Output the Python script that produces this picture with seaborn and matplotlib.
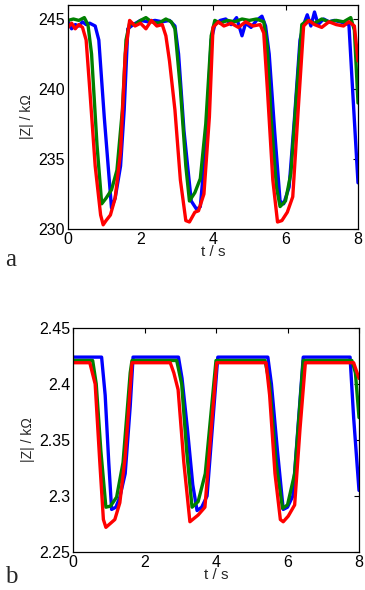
import pandas as pd
import numpy as np
import matplotlib
matplotlib.use("Agg")
import matplotlib.pyplot as plt
import seaborn as sns

# panel a: |Z| in kOhm
t_blue_a = [0, 0.1, 0.2, 0.3, 0.4, 0.5, 0.6, 0.75, 0.85, 1.0, 1.2, 1.3, 1.45, 1.55, 1.65, 1.8, 2.0, 2.2, 2.4, 2.6,
            2.8, 2.95, 3.05, 3.2, 3.4, 3.55, 3.65, 3.8, 3.95, 4.05, 4.2, 4.35, 4.5, 4.65, 4.8, 4.9, 5.05, 5.2, 5.35,
            5.45, 5.55, 5.7, 5.85, 5.95, 6.1, 6.25, 6.4, 6.5, 6.6, 6.7, 6.8, 6.9, 7.05, 7.2, 7.35, 7.5, 7.65, 7.75,
            7.85, 8.0]
z_blue_a = [244.8, 244.3, 244.6, 244.5, 244.8, 244.6, 244.7, 244.5, 243.5, 238, 231.5, 232.2, 234.5, 238.5, 244.3,
            244.6, 244.9, 244.8, 244.9, 244.8, 244.9, 244.5, 242.5, 237, 232, 231.4, 231.6, 236, 243.5, 244.6, 244.9,
            245.0, 244.6, 245.1, 243.8, 244.7, 244.4, 244.9, 245.2, 244.5, 242.5, 237, 232, 231.8, 233, 238, 243.5,
            244.6, 245.3, 244.5, 245.5, 244.6, 245.0, 244.8, 244.9, 244.8, 244.7, 244.6, 240, 233.3]

t_green_a = [0, 0.15, 0.3, 0.45, 0.55, 0.65, 0.8, 0.93, 1.05, 1.2, 1.35, 1.5, 1.6, 1.7, 1.85, 2.0, 2.15, 2.3, 2.5,
             2.7, 2.85, 2.95, 3.1, 3.25, 3.35, 3.5, 3.65, 3.8, 3.95, 4.05, 4.2, 4.4, 4.6, 4.8, 5.0, 5.2, 5.4, 5.5,
             5.6, 5.75, 5.85, 6.0, 6.15, 6.3, 6.45, 6.6, 6.8, 7.0, 7.2, 7.4, 7.6, 7.8, 7.9, 8.0]
z_green_a = [244.9, 245.0, 244.9, 245.1, 244.6, 242.5, 236, 231.8, 232.2, 232.8, 234.2, 238.5, 243.5, 244.7, 244.6,
             244.9, 245.1, 244.8, 244.7, 245.0, 244.8, 244.3, 240, 234.5, 232.0, 232.6, 233.6, 237.5, 243.8, 244.9,
             244.7, 244.9, 244.8, 245.0, 244.9, 245.0, 244.8, 243.0, 238, 233, 231.6, 232.0, 234, 239.5, 244.6,
             244.9, 244.7, 245.0, 244.8, 244.9, 244.8, 245.1, 244.2, 239]

t_red_a = [0, 0.1, 0.2, 0.3, 0.4, 0.5, 0.6, 0.75, 0.9, 0.97, 1.05, 1.17, 1.3, 1.45, 1.58, 1.7, 1.85, 2.0, 2.15, 2.3,
           2.45, 2.6, 2.7, 2.8, 2.95, 3.1, 3.25, 3.35, 3.5, 3.6, 3.75, 3.9, 4.0, 4.15, 4.3, 4.5, 4.7, 4.9, 5.1, 5.3,
           5.4, 5.5, 5.65, 5.78, 5.9, 6.05, 6.2, 6.35, 6.5, 6.65, 6.8, 7.0, 7.2, 7.4, 7.6, 7.75, 7.9, 8.0]
z_red_a = [244.4, 244.7, 244.3, 244.6, 244.4, 243.5, 240, 234.5, 231.0, 230.3, 230.6, 231.0, 232.2, 235.5, 242.5,
           244.9, 244.5, 244.7, 244.3, 244.9, 244.5, 244.6, 243.8, 242.0, 238.5, 233.5, 230.6, 230.5, 231.2, 231.3,
           232.5, 238, 244.4, 244.8, 244.5, 244.7, 244.4, 244.8, 244.5, 244.6, 244.0, 240, 233.5, 230.5, 230.6,
           231.2, 232.3, 238.5, 244.5, 244.9, 244.6, 244.4, 244.8, 244.6, 244.5, 244.8, 244.5, 242]

# panel b
t_blue_b = [0, 0.8, 0.9, 1.0, 1.08, 1.2, 1.31, 1.46, 1.6, 1.68, 2.95, 3.05, 3.2, 3.35, 3.47, 3.6, 3.75, 4.05, 5.45,
            5.55, 5.72, 5.88, 6.0, 6.15, 6.44, 7.75, 7.85, 8.0]
z_blue_b = [2.424, 2.424, 2.39, 2.33, 2.288, 2.29, 2.299, 2.32, 2.38, 2.424, 2.424, 2.405, 2.36, 2.31, 2.287, 2.29,
            2.30, 2.424, 2.424, 2.40, 2.34, 2.288, 2.29, 2.30, 2.424, 2.424, 2.37, 2.305]

t_green_b = [0, 0.55, 0.65, 0.78, 0.92, 1.05, 1.22, 1.4, 1.6, 1.65, 2.9, 3.04, 3.18, 3.33, 3.5, 3.7, 4.0, 5.37,
             5.5, 5.68, 5.86, 6.0, 6.2, 6.44, 7.8, 7.9, 8.0]
z_green_b = [2.421, 2.421, 2.40, 2.34, 2.290, 2.291, 2.299, 2.33, 2.41, 2.421, 2.421, 2.40, 2.34, 2.290, 2.295,
             2.32, 2.421, 2.421, 2.40, 2.33, 2.289, 2.292, 2.32, 2.421, 2.421, 2.41, 2.37]

t_red_b = [0, 0.47, 0.62, 0.75, 0.85, 0.92, 1.17, 1.31, 1.46, 1.65, 2.72, 2.82, 2.94, 3.1, 3.27, 3.5, 3.69, 3.88,
           4.02, 5.4, 5.5, 5.65, 5.8, 5.88, 6.02, 6.2, 6.35, 6.5, 7.85, 8.0]
z_red_b = [2.419, 2.419, 2.40, 2.33, 2.279, 2.272, 2.279, 2.294, 2.335, 2.419, 2.419, 2.41, 2.395, 2.33, 2.277,
           2.283, 2.29, 2.365, 2.419, 2.419, 2.39, 2.32, 2.279, 2.277, 2.282, 2.292, 2.36, 2.419, 2.419, 2.405]

yticks_a = [230, 235, 240, 245]
yticks_b = [2.25, 2.3, 2.35, 2.4, 2.45]
ytick_labels_b = ["2.25", "2.3", "2.35", "2.4", "2.45"]
xticks = [0, 2, 4, 6, 8]


def to_long(parts):
    frames = []
    for name, t, z in parts:
        frames.append(pd.DataFrame({"t": t, "z": z, "series": name}))
    return pd.concat(frames, ignore_index=True)


df_a = to_long([("blue", t_blue_a, z_blue_a), ("green", t_green_a, z_green_a), ("red", t_red_a, z_red_a)])
df_b = to_long([("blue", t_blue_b, z_blue_b), ("green", t_green_b, z_green_b), ("red", t_red_b, z_red_b)])

sns.set_style("white")
plt.rcParams["font.family"] = ["Liberation Sans", "DejaVu Sans"]

palette = {"blue": "#0000ff", "green": "#008000", "red": "#ff0000"}

fig = plt.figure(figsize=(3.65, 5.9), dpi=100)
ax_a = fig.add_axes([68 / 365, 1 - 229 / 590, 290 / 365, 224 / 590])
ax_b = fig.add_axes([73 / 365, 1 - 552 / 590, 286 / 365, 224 / 590])

for ax, df in [(ax_a, df_a), (ax_b, df_b)]:
    sns.lineplot(data=df, x="t", y="z", hue="series", palette=palette, estimator=None,
                 sort=False, linewidth=2.4, legend=False, ax=ax)
    ax.set_xlim(0, 8)
    ax.set_xticks(xticks)
    ax.set_xlabel("t / s", fontsize=11, labelpad=-1)
    ax.set_ylabel("|Z| / k\u03a9", fontsize=10, labelpad=3)
    ax.tick_params(direction="in", top=True, right=True, length=3.5, width=0.8,
                   labelsize=11.5, pad=2, colors="black")
    for s in ax.spines.values():
        s.set_visible(True)
        s.set_color("black")
        s.set_linewidth(0.9)

ax_a.set_ylim(230, 246)
ax_a.set_yticks(yticks_a)
ax_b.set_ylim(2.25, 2.45)
ax_b.set_yticks(yticks_b)
ax_b.set_yticklabels(ytick_labels_b)

fig.text(5 / 365, 1 - 266 / 590, "a", family="Liberation Serif", fontsize=18, va="baseline")
fig.text(5 / 365, 1 - 583 / 590, "b", family="Liberation Serif", fontsize=18, va="baseline")

fig.savefig("out.png", dpi=100)
